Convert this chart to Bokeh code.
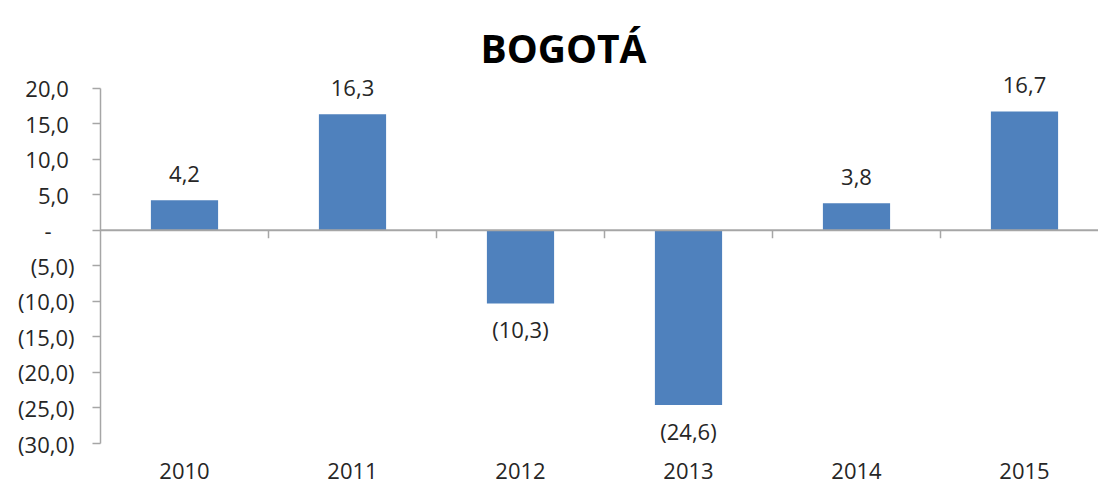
from bokeh.plotting import figure
from bokeh.models import ColumnDataSource, FixedTicker, Span, Label, LabelSet, Range1d
from bokeh.embed import file_html
from bokeh.resources import INLINE
from bokeh.core.properties import value

# ---- data ----
title = "BOGOTÁ"
years = ["2010", "2011", "2012", "2013", "2014", "2015"]
values = [4.2, 16.3, -10.3, -24.6, 3.8, 16.7]
y_ticks = [-30, -25, -20, -15, -10, -5, 0, 5, 10, 15, 20]

NB = "\u00a0"


def fmt(v):
    if v == 0:
        return "-"
    s = f"{abs(v):.1f}".replace(".", ",")
    return f"({s})" if v < 0 else s


def fmt_axis(v):
    # accounting-style alignment: positives/zero padded where ")" would be
    if v == 0:
        return "-" + NB * 4
    if v > 0:
        return fmt(v) + NB
    return fmt(v)


FONT = "Open Sans"
TXT = "#262626"
AXC = "#A6A6A6"
BAR = "#4F81BD"

xs = list(range(len(years)))
src = ColumnDataSource(dict(
    x=xs,
    top=values,
    lab=[fmt(v) for v in values],
    yoff=[18 if v >= 0 else -35 for v in values],
))

W, H = 1098, 484
LEFT = 100
PX_PER_CAT = 168
Y_TOP_PX, Y_BOT_PX = 87.5, 443.0          # pixel rows of the 20 and -30 ticks
ymin, ymax = min(y_ticks), max(y_ticks)
ppu = (Y_BOT_PX - Y_TOP_PX) / (ymax - ymin)
x_range = Range1d(-0.5, -0.5 + (W - LEFT) / PX_PER_CAT)
y_range = Range1d(ymin - (H - Y_BOT_PX) / ppu, ymax + Y_TOP_PX / ppu)

p = figure(width=W, height=H, x_range=x_range, y_range=y_range,
           output_backend="svg", toolbar_location=None,
           min_border_left=LEFT, min_border_right=0,
           min_border_top=0, min_border_bottom=0)
p.outline_line_color = None
p.grid.visible = False
p.xaxis.visible = False
p.background_fill_color = "white"
p.border_fill_color = "white"

p.vbar(x="x", top="top", bottom=0, width=0.4, source=src,
       fill_color=BAR, line_color=None)

# zero line with category boundary ticks
p.add_layout(Span(location=0, dimension="width", line_color=AXC, line_width=2))
tick_len = 8 / ppu
bx = [i + 0.5 for i in range(len(years) - 1)]
p.segment(x0=bx, y0=[0] * len(bx), x1=bx, y1=[-tick_len] * len(bx),
          line_color=AXC, line_width=1.5)

# value labels
p.add_layout(LabelSet(x="x", y="top", text="lab", source=src,
                      y_offset="yoff", text_align="center",
                      text_baseline="alphabetic",
                      text_font=value(FONT), text_font_size="22px",
                      text_color=TXT))

# category labels below the plot
cat_src = ColumnDataSource(dict(x=xs, y=[ymin] * len(xs), lab=years))
p.add_layout(LabelSet(x="x", y="y", text="lab", source=cat_src,
                      y_offset=-35, text_align="center",
                      text_baseline="alphabetic",
                      text_font=value(FONT), text_font_size="22px",
                      text_color=TXT))

# y axis
ya = p.yaxis[0]
ya.ticker = FixedTicker(ticks=y_ticks)
ya.bounds = (ymin, ymax)
ya.major_label_overrides = {t: fmt_axis(t) for t in y_ticks}
ya.axis_line_color = AXC
ya.axis_line_width = 1.5
ya.major_tick_line_color = AXC
ya.major_tick_line_width = 1.5
ya.major_tick_in = 0
ya.major_tick_out = 8
ya.minor_tick_line_color = None
ya.major_label_standoff = 18
ya.major_label_text_font = FONT
ya.major_label_text_font_size = "22px"
ya.major_label_text_color = TXT

# title
p.add_layout(Label(x=-0.5 + (563 - LEFT) / PX_PER_CAT, y=ymax + (Y_TOP_PX - 47) / ppu,
                   text=title, text_align="center",
                   text_baseline="alphabetic", text_font=FONT,
                   text_font_size="39px", text_font_style="bold",
                   text_color="black"))

open("out.html", "w").write(file_html(p, INLINE))
